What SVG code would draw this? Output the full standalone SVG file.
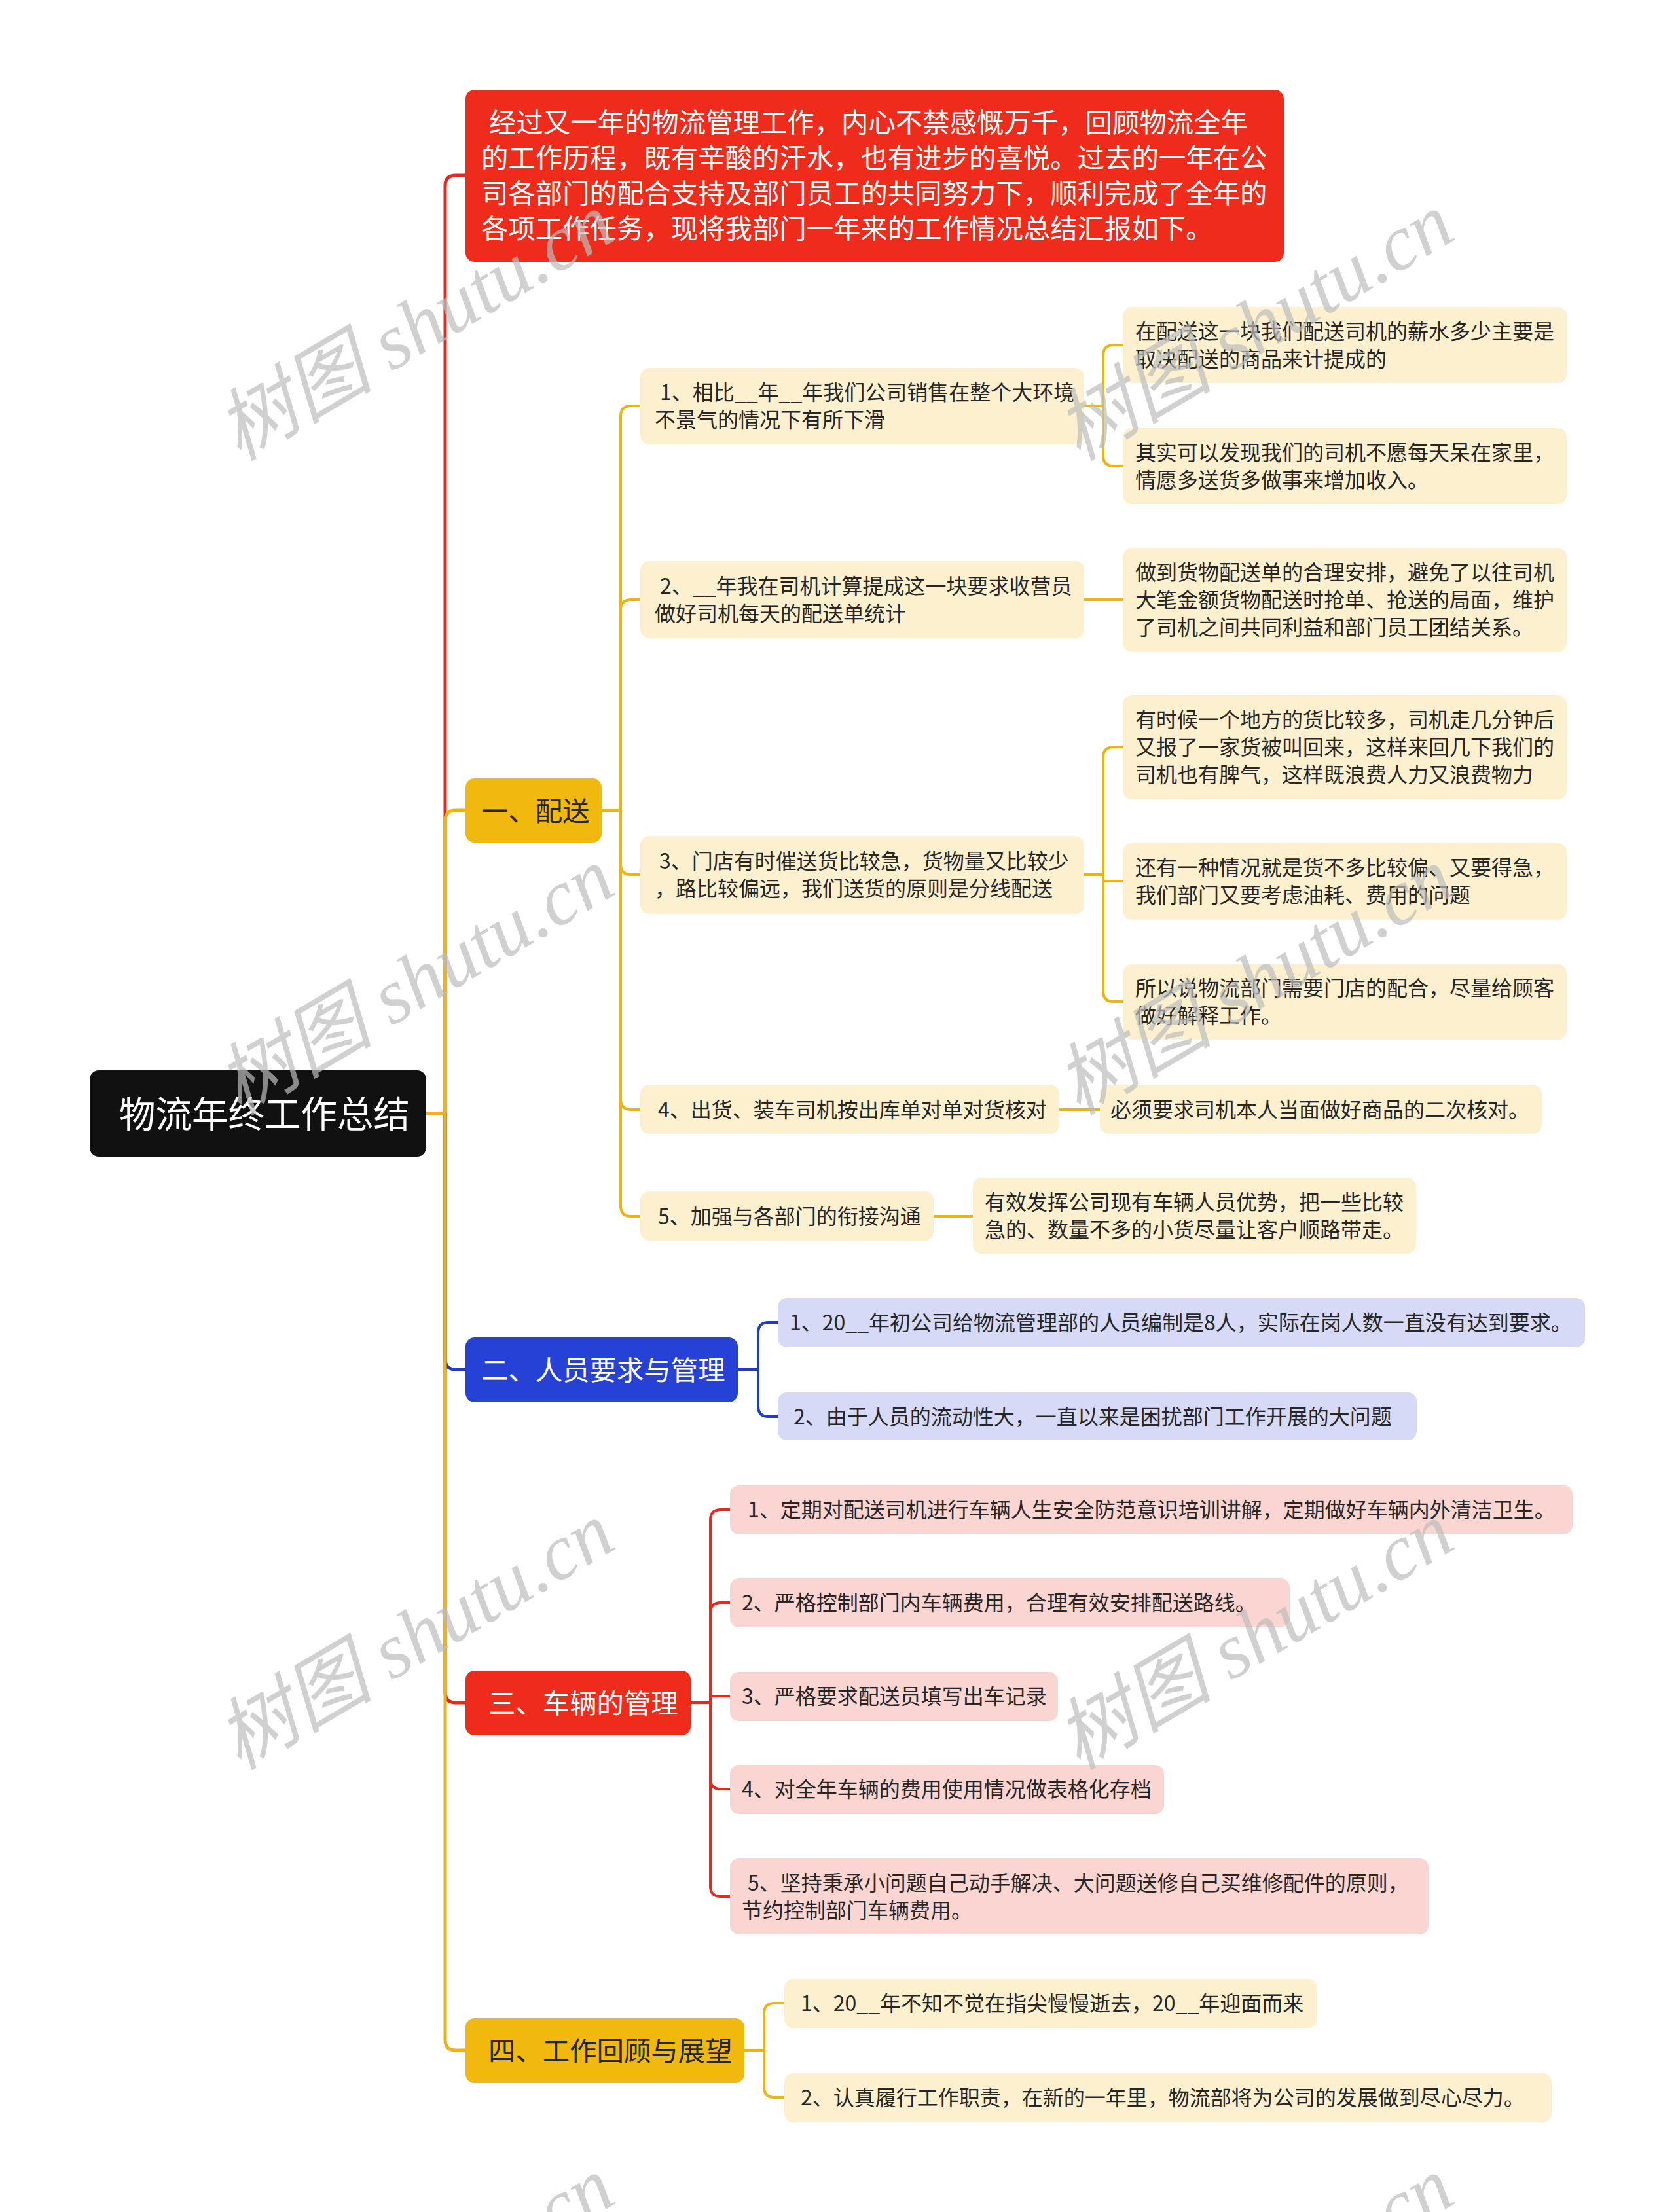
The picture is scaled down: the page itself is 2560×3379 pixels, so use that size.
<svg xmlns="http://www.w3.org/2000/svg" width="2560" height="3379" viewBox="0 0 2560 3379">
<style>
text{font-family:"Noto Sans CJK SC","Noto Sans",sans-serif;}
.root{fill:#111111;}
.red{fill:#EF2B1C;}
.yel{fill:#F1B80E;}
.blue{fill:#2541D6;}
.cream{fill:#FCF0CF;}
.lav{fill:#D6DAF6;}
.pink{fill:#FAD5D1;}
.tw{fill:#ffffff;}
.td{fill:#262626;}
.f55{font-size:55.5px;}
.f41{font-size:41.4px;}
.f31{font-size:32px;}
.mid{text-anchor:middle;}
.cn{fill:none;stroke-linecap:round;stroke-linejoin:round;}
.cr{stroke:#E8281B;}
.cy{stroke:#EDB40F;}
.cb{stroke:#1F3BC8;}
.w5{stroke-width:5;}
.w4{stroke-width:4;}
.wm{font-family:"Liberation Serif","Noto Sans CJK SC",serif;font-style:italic;font-size:120px;fill:#bdbdbd;opacity:0.7;}
</style>
<rect width="2560" height="3379" fill="#ffffff"/>

<g id="connectors">
  <path class="cn cr w5" d="M651,1701 H680 V284 Q680,268 696,268 H711"/>
  <path class="cn cy w5" d="M651,1701 H680 V1254 Q680,1238 696,1238 H711"/>
  <path class="cn cb w5" d="M651,1701 H680 V2076 Q680,2092 696,2092 H711"/>
  <path class="cn cr w5" d="M651,1701 H680 V2585 Q680,2601 696,2601 H711"/>
  <path class="cn cy w5" d="M651,1701 H680 V3116 Q680,3132 696,3132 H711"/>

  <path class="cn cy w4" d="M919,1238 H948 V636 Q948,620 964,620 H978"/>
  <path class="cn cy w4" d="M919,1238 H948 V932 Q948,916 964,916 H978"/>
  <path class="cn cy w4" d="M919,1238 H948 V1320 Q948,1336 964,1336 H978"/>
  <path class="cn cy w4" d="M919,1238 H948 V1679 Q948,1695 964,1695 H978"/>
  <path class="cn cy w4" d="M919,1238 H948 V1842 Q948,1858 964,1858 H978"/>

  <path class="cn cy w4" d="M1656,620 H1685 V543 Q1685,527 1701,527 H1715"/>
  <path class="cn cy w4" d="M1656,620 H1685 V696 Q1685,712 1701,712 H1715"/>
  <path class="cn cy w4" d="M1656,916 H1715"/>
  <path class="cn cy w4" d="M1656,1336 H1685 V1157 Q1685,1141 1701,1141 H1715"/>
  <path class="cn cy w4" d="M1656,1336 H1685 V1346 H1715"/>
  <path class="cn cy w4" d="M1656,1336 H1685 V1514 Q1685,1530 1701,1530 H1715"/>
  <path class="cn cy w4" d="M1618,1695 H1680"/>
  <path class="cn cy w4" d="M1426,1858 H1486"/>

  <path class="cn cb w4" d="M1127,2092 H1158 V2036 Q1158,2020 1174,2020 H1188"/>
  <path class="cn cb w4" d="M1127,2092 H1158 V2148 Q1158,2164 1174,2164 H1188"/>

  <path class="cn cr w4" d="M1055,2601 H1085 V2322 Q1085,2306 1101,2306 H1115"/>
  <path class="cn cr w4" d="M1055,2601 H1085 V2464 Q1085,2448 1101,2448 H1115"/>
  <path class="cn cr w4" d="M1055,2601 H1085 V2591 H1115"/>
  <path class="cn cr w4" d="M1055,2601 H1085 V2717 Q1085,2733 1101,2733 H1115"/>
  <path class="cn cr w4" d="M1055,2601 H1085 V2881 Q1085,2897 1101,2897 H1115"/>

  <path class="cn cy w4" d="M1137,3132 H1167 V3076 Q1167,3060 1183,3060 H1198"/>
  <path class="cn cy w4" d="M1137,3132 H1167 V3188 Q1167,3204 1183,3204 H1198"/>
</g>

<g id="root">
  <rect class="root" x="137" y="1635" width="514" height="132" rx="14"/>
  <text class="tw f55 mid" x="404" y="1722">物流年终工作总结</text>
</g>

<g id="intro">
  <rect class="red" x="711" y="137" width="1250" height="263" rx="14"/>
  <text class="tw f41" x="747" y="202">经过又一年的物流管理工作，内心不禁感慨万千，回顾物流全年</text>
  <text class="tw f41" x="735" y="256">的工作历程，既有辛酸的汗水，也有进步的喜悦。过去的一年在公</text>
  <text class="tw f41" x="735" y="310">司各部门的配合支持及部门员工的共同努力下，顺利完成了全年的</text>
  <text class="tw f41" x="735" y="364">各项工作任务，现将我部门一年来的工作情况总结汇报如下。</text>
</g>

<g id="h1">
  <rect class="yel" x="711" y="1189" width="208" height="98" rx="14"/>
  <text class="td f41" x="735" y="1254">一、配送</text>
</g>
<g id="h1-s1">
  <rect class="cream" x="978" y="562" width="678" height="117" rx="14"/>
  <text class="td f31" x="1008" y="611">1、相比__年__年我们公司销售在整个大环境</text>
  <text class="td f31" x="1000" y="653">不景气的情况下有所下滑</text>
</g>
<g id="h1-s1-a">
  <rect class="cream" x="1715" y="469" width="678" height="116" rx="14"/>
  <text class="td f31" x="1734" y="518">在配送这一块我们配送司机的薪水多少主要是</text>
  <text class="td f31" x="1734" y="560">取决配送的商品来计提成的</text>
</g>
<g id="h1-s1-b">
  <rect class="cream" x="1715" y="654" width="678" height="116" rx="14"/>
  <text class="td f31" x="1734" y="703">其实可以发现我们的司机不愿每天呆在家里，</text>
  <text class="td f31" x="1734" y="745">情愿多送货多做事来增加收入。</text>
</g>
<g id="h1-s2">
  <rect class="cream" x="978" y="857" width="678" height="118" rx="14"/>
  <text class="td f31" x="1008" y="907">2、__年我在司机计算提成这一块要求收营员</text>
  <text class="td f31" x="1000" y="949">做好司机每天的配送单统计</text>
</g>
<g id="h1-s2-a">
  <rect class="cream" x="1715" y="837" width="678" height="159" rx="14"/>
  <text class="td f31" x="1734" y="886">做到货物配送单的合理安排，避免了以往司机</text>
  <text class="td f31" x="1734" y="928">大笔金额货物配送时抢单、抢送的局面，维护</text>
  <text class="td f31" x="1734" y="970">了司机之间共同利益和部门员工团结关系。</text>
</g>
<g id="h1-s3">
  <rect class="cream" x="978" y="1277" width="678" height="119" rx="14"/>
  <text class="td f31" x="1007" y="1327">3、门店有时催送货比较急，货物量又比较少</text>
  <text class="td f31" x="1000" y="1369">，路比较偏远，我们送货的原则是分线配送</text>
</g>
<g id="h1-s3-a">
  <rect class="cream" x="1715" y="1062" width="678" height="159" rx="14"/>
  <text class="td f31" x="1734" y="1111">有时候一个地方的货比较多，司机走几分钟后</text>
  <text class="td f31" x="1734" y="1153">又报了一家货被叫回来，这样来回几下我们的</text>
  <text class="td f31" x="1734" y="1195">司机也有脾气，这样既浪费人力又浪费物力</text>
</g>
<g id="h1-s3-b">
  <rect class="cream" x="1715" y="1288" width="678" height="117" rx="14"/>
  <text class="td f31" x="1734" y="1337">还有一种情况就是货不多比较偏、又要得急，</text>
  <text class="td f31" x="1734" y="1379">我们部门又要考虑油耗、费用的问题</text>
</g>
<g id="h1-s3-c">
  <rect class="cream" x="1715" y="1473" width="678" height="115" rx="14"/>
  <text class="td f31" x="1734" y="1521">所以说物流部门需要门店的配合，尽量给顾客</text>
  <text class="td f31" x="1734" y="1563">做好解释工作。</text>
</g>
<g id="h1-s4">
  <rect class="cream" x="978" y="1657" width="640" height="75" rx="14"/>
  <text class="td f31" x="1005" y="1707">4、出货、装车司机按出库单对单对货核对</text>
</g>
<g id="h1-s4-a">
  <rect class="cream" x="1680" y="1657" width="675" height="75" rx="14"/>
  <text class="td f31" x="1696" y="1707">必须要求司机本人当面做好商品的二次核对。</text>
</g>
<g id="h1-s5">
  <rect class="cream" x="978" y="1820" width="448" height="75" rx="14"/>
  <text class="td f31" x="1005" y="1870">5、加强与各部门的衔接沟通</text>
</g>
<g id="h1-s5-a">
  <rect class="cream" x="1486" y="1799" width="677" height="116" rx="14"/>
  <text class="td f31" x="1504" y="1848">有效发挥公司现有车辆人员优势，把一些比较</text>
  <text class="td f31" x="1504" y="1890">急的、数量不多的小货尽量让客户顺路带走。</text>
</g>

<g id="h2">
  <rect class="blue" x="711" y="2043" width="416" height="99" rx="14"/>
  <text class="tw f41" x="735" y="2108">二、人员要求与管理</text>
</g>
<g id="h2-1">
  <rect class="lav" x="1188" y="1983" width="1233" height="75" rx="14"/>
  <text class="td f31" x="1206" y="2032">1、20__年初公司给物流管理部的人员编制是8人，实际在岗人数一直没有达到要求。</text>
</g>
<g id="h2-2">
  <rect class="lav" x="1188" y="2127" width="976" height="73" rx="14"/>
  <text class="td f31" x="1212" y="2176">2、由于人员的流动性大，一直以来是困扰部门工作开展的大问题</text>
</g>

<g id="h3">
  <rect class="red" x="711" y="2552" width="344" height="99" rx="14"/>
  <text class="tw f41" x="746" y="2617">三、车辆的管理</text>
</g>
<g id="h3-1">
  <rect class="pink" x="1115" y="2269" width="1287" height="75" rx="14"/>
  <text class="td f31" x="1142" y="2318">1、定期对配送司机进行车辆人生安全防范意识培训讲解，定期做好车辆内外清洁卫生。</text>
</g>
<g id="h3-2">
  <rect class="pink" x="1115" y="2411" width="855" height="75" rx="14"/>
  <text class="td f31" x="1133" y="2460">2、严格控制部门内车辆费用，合理有效安排配送路线。</text>
</g>
<g id="h3-3">
  <rect class="pink" x="1115" y="2554" width="501" height="75" rx="14"/>
  <text class="td f31" x="1133" y="2603">3、严格要求配送员填写出车记录</text>
</g>
<g id="h3-4">
  <rect class="pink" x="1115" y="2696" width="663" height="75" rx="14"/>
  <text class="td f31" x="1133" y="2745">4、对全年车辆的费用使用情况做表格化存档</text>
</g>
<g id="h3-5">
  <rect class="pink" x="1115" y="2839" width="1067" height="116" rx="14"/>
  <text class="td f31" x="1142" y="2888">5、坚持秉承小问题自己动手解决、大问题送修自己买维修配件的原则，</text>
  <text class="td f31" x="1133" y="2930">节约控制部门车辆费用。</text>
</g>

<g id="h4">
  <rect class="yel" x="711" y="3083" width="426" height="99" rx="14"/>
  <text class="td f41" x="746" y="3148">四、工作回顾与展望</text>
</g>
<g id="h4-1">
  <rect class="cream" x="1198" y="3023" width="814" height="75" rx="14"/>
  <text class="td f31" x="1223" y="3072">1、20__年不知不觉在指尖慢慢逝去，20__年迎面而来</text>
</g>
<g id="h4-2">
  <rect class="cream" x="1198" y="3167" width="1172" height="75" rx="14"/>
  <text class="td f31" x="1223" y="3216">2、认真履行工作职责，在新的一年里，物流部将为公司的发展做到尽心尽力。</text>
</g>

<g id="watermarks">
  <text class="wm" transform="translate(365,705) rotate(-30.5)">树图 shutu.cn</text>
  <text class="wm" transform="translate(1647,705) rotate(-30.5)">树图 shutu.cn</text>
  <text class="wm" transform="translate(365,1705) rotate(-30.5)">树图 shutu.cn</text>
  <text class="wm" transform="translate(1647,1705) rotate(-30.5)">树图 shutu.cn</text>
  <text class="wm" transform="translate(365,2705) rotate(-30.5)">树图 shutu.cn</text>
  <text class="wm" transform="translate(1647,2705) rotate(-30.5)">树图 shutu.cn</text>
  <text class="wm" transform="translate(365,3705) rotate(-30.5)">树图 shutu.cn</text>
  <text class="wm" transform="translate(1647,3705) rotate(-30.5)">树图 shutu.cn</text>
</g>
</svg>
